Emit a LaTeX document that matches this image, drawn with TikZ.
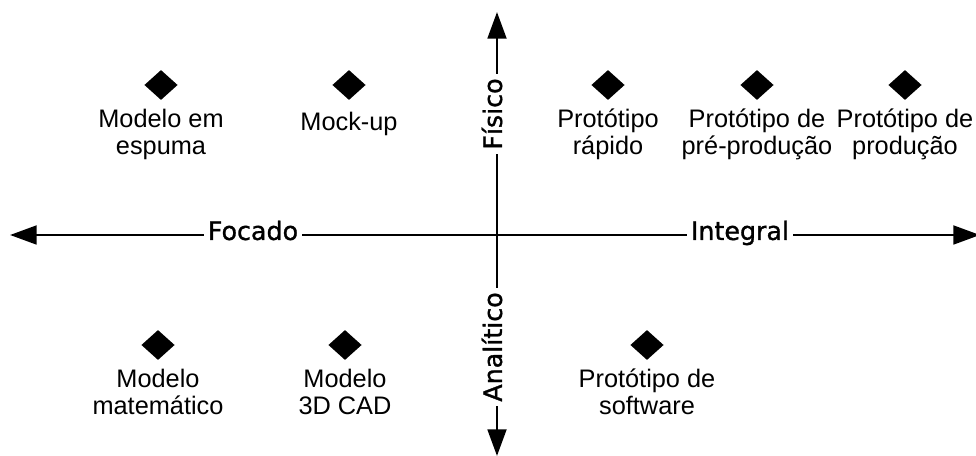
\documentclass[tikz,border=0pt]{standalone}
\usepackage{fontspec}
\setmainfont{Liberation Sans}
\newfontfamily\axisfont[FakeBold=1.2]{DejaVu Sans}
\usetikzlibrary{arrows.meta,positioning,shapes.geometric}
\tikzset{
  axis/.style={line width=2.2pt,>={Triangle[length=20pt,width=14pt]},<->},
  marker/.style={diamond,fill=black,inner sep=0pt,minimum width=25pt,minimum height=22.5pt},
  lbl/.style={align=center,inner sep=0pt,anchor=base,font=\fontsize{19}{20.25}\selectfont},
  axislbl/.style={fill=white,inner sep=3pt,font=\axisfont\fontsize{19}{21}\selectfont,
    text height=0.74em,text depth=0pt}
}
\begin{document}
\begin{tikzpicture}[x=0.75pt,y=-0.75pt]
  \useasboundingbox (0,0) rectangle (976,456);
  % ends of the two axes
  \coordinate (west) at (10,235);
  \coordinate (east) at (980,235);
  \coordinate (north) at (497,12);
  \coordinate (south) at (497,456);
  \draw[axis] (west) -- (east);
  \draw[axis] (south) -- (north);
  \node[axislbl] (focado) at (253,235) {Focado};
  \node[axislbl] (integral) at (740,235) {Integral};
  \node[axislbl,rotate=90] (fisico) at (497,114) {Físico};
  \node[axislbl,rotate=90] (analitico) at (497,347) {Analítico};
  % upper row
  \node[marker] (espuma) at (161,85) {};
  \node[marker] (mockup) at (349,85) {};
  \node[marker] (rapido) at (608,85) {};
  \node[marker] (preprod) at (757,85) {};
  \node[marker] (prod) at (905,85) {};
  \node[lbl,below=41pt of espuma,anchor=base] (espumatxt) {Modelo em\\espuma};
  \node[lbl,below=22.5pt of mockup,anchor=base] (mockuptxt) {Mock-up};
  \node[lbl,below=41pt of rapido,anchor=base] (rapidotxt) {Protótipo\\rápido};
  \node[lbl,below=41pt of preprod,anchor=base] (preprodtxt) {Protótipo de\\pré-produção};
  \node[lbl,below=41pt of prod,anchor=base] (prodtxt) {Protótipo de\\produção};
  % lower row
  \node[marker] (matem) at (158,345) {};
  \node[marker] (cad) at (345,345) {};
  \node[marker] (software) at (647,345) {};
  \node[lbl,below=41pt of matem,anchor=base] (matemtxt) {Modelo\\matemático};
  \node[lbl,below=41pt of cad,anchor=base] (cadtxt) {Modelo\\3D CAD};
  \node[lbl,below=41pt of software,anchor=base] (softwaretxt) {Protótipo de\\software};
\end{tikzpicture}
\end{document}
